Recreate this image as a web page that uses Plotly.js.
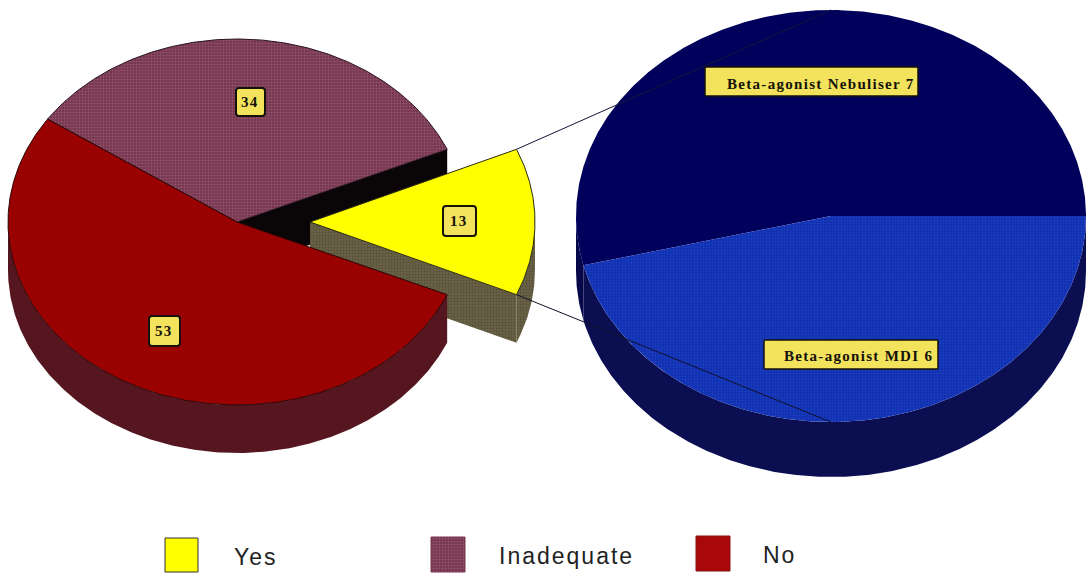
<!DOCTYPE html>
<html>
<head>
<meta charset="utf-8">
<script src="https://cdn.plot.ly/plotly-3.0.1.min.js"></script>
<style>
  html, body { margin: 0; padding: 0; background: #fff; }
  text.annotation-text[style*="Serif"] { letter-spacing: 1.3px; }
  text.annotation-text[style*="Sans"] { letter-spacing: 2px; }
</style>
</head>
<body>
<div id="chart" style="width:1088px;height:574px"></div>
<script>
// Answers, in percent
const answerNames = ['Yes', 'Inadequate', 'No'];
const answerValues = [13, 34, 53];
// Breakdown of the "Yes" slice
const yesBreakdownNames = ['Beta-agonist Nebuliser', 'Beta-agonist MDI'];
const yesBreakdownValues = [7, 6];

const RED_SIDE = '#561620', RED = '#9a0202', NAVY = '#01015c', NAVY_SIDE = '#07074c';
const BLUE_SIDE = '#0c0e52', BLUE = '#1230b0', YELLOW = '#ffff00', LABEL = '#f2e25c';
const MAUVE_PAT = { shape: '.', bgcolor: '#783450', fgcolor: '#8f566c', size: 3, solidity: 0.35 };
const BLUE_PAT = { shape: '.', bgcolor: '#1030b0', fgcolor: '#1e40c4', size: 3, solidity: 0.3 };
const WALL_PAT = { shape: '.', bgcolor: '#6a6246', fgcolor: '#544e36', size: 3, solidity: 0.3 };

const main = { cx: 237, cy: 222, rx: 229, ry: 183, depth: 48 };
const explodedYes = { ...main, cx: 310, rx: 225 };
const detail = { cx: 831, cy: 216, rx: 255, ry: 206, depth: 55 };

// Turns a list of values into [start, end] angles in degrees
function sweeps(values, start) {
  const total = values.reduce((a, b) => a + b, 0);
  let a = start;
  return values.map(v => { const s = a; a += v / total * 360; return [s, a]; });
}
function rim(p, deg) {
  const r = deg * Math.PI / 180;
  return [p.cx + p.rx * Math.cos(r), p.cy - p.ry * Math.sin(r)];
}
function arc(p, a0, a1) {
  const pts = [], n = Math.max(2, Math.ceil(Math.abs(a1 - a0) * 2));
  for (let i = 0; i <= n; i++) pts.push(rim(p, a0 + (a1 - a0) * i / n));
  return pts;
}
function poly(pts, fill, lineColor, pattern) {
  const closed = pts.concat([pts[0]]);
  const t = {
    type: 'scatter', mode: 'lines', x: closed.map(q => q[0]), y: closed.map(q => q[1]),
    fill: 'toself', fillcolor: fill, hoverinfo: 'skip', showlegend: false,
    line: lineColor ? { color: lineColor, width: 1 } : { width: 0 }
  };
  if (pattern) t.fillpattern = pattern;
  return t;
}
function face(p, a0, a1, fill, lineColor, pattern) {
  return poly([[p.cx, p.cy]].concat(arc(p, a0, a1)), fill, lineColor, pattern);
}
// Front-facing part of the extruded rim of a slice
function sides(p, a0, a1, fill, pattern) {
  const out = [];
  [[-180, 0], [180, 360]].forEach(([lo, hi]) => {
    const s = Math.max(a0, lo), e = Math.min(a1, hi);
    if (s < e) {
      const top = arc(p, s, e);
      const bottom = top.slice().reverse().map(q => [q[0], q[1] + p.depth]);
      out.push(poly(top.concat(bottom), fill, null, pattern));
    }
  });
  return out;
}
// Vertical cut wall running from the apex out to the rim
function wall(p, deg, fill, pattern) {
  const e = rim(p, deg);
  return poly([[p.cx, p.cy], e, [e[0], e[1] + p.depth], [p.cx, p.cy + p.depth]], fill, null, pattern);
}
function swatch(x0, y0, x1, y1, fill, lineColor, pattern) {
  return poly([[x0, y0], [x1, y0], [x1, y1], [x0, y1]], fill, lineColor, pattern);
}
function roundedBox(x0, y0, x1, y1, r) {
  return `M${x0 + r},${y0} L${x1 - r},${y0} Q${x1},${y0} ${x1},${y0 + r} L${x1},${y1 - r} Q${x1},${y1} ${x1 - r},${y1} ` +
         `L${x0 + r},${y1} Q${x0},${y1} ${x0},${y1 - r} L${x0},${y0 + r} Q${x0},${y0} ${x0 + r},${y0} Z`;
}

const [yesA, inadequateA, noA] = sweeps(answerValues, -answerValues[0] / 100 * 180);
const [nebA, mdiA] = sweeps(yesBreakdownValues, 0);

const cornerTop = rim(explodedYes, yesA[1]), cornerBottom = rim(explodedYes, yesA[0]);
const detailTop = rim(detail, 90), detailBottom = rim(detail, 270);

const traces = [
  // Main pie, back to front
  wall(main, inadequateA[0], '#0a0507'),
  wall(explodedYes, yesA[0], '#6a6246', WALL_PAT),
  ...sides(explodedYes, yesA[0], yesA[1], '#5d563c', WALL_PAT),
  face(main, inadequateA[0], inadequateA[1], '#783450', '#2a1420', MAUVE_PAT),
  ...sides(main, noA[0], noA[1], RED_SIDE),
  face(main, noA[0], noA[1], RED, '#2a0505'),
  face(explodedYes, yesA[0], yesA[1], YELLOW, '#2a2a10'),
  // Detail pie
  ...sides(detail, nebA[0], nebA[1], NAVY_SIDE),
  ...sides(detail, mdiA[0], mdiA[1], BLUE_SIDE),
  face(detail, nebA[0], nebA[1], NAVY, null),
  face(detail, mdiA[0], mdiA[1], BLUE, null, BLUE_PAT),
  // Leader lines joining the "Yes" slice to the detail pie
  { type: 'scatter', mode: 'lines', x: [cornerTop[0], detailTop[0]], y: [cornerTop[1], detailTop[1]],
    line: { color: '#14143a', width: 1 }, hoverinfo: 'skip', showlegend: false },
  { type: 'scatter', mode: 'lines', x: [cornerBottom[0], detailBottom[0]], y: [cornerBottom[1], detailBottom[1]],
    line: { color: '#101028', width: 1 }, hoverinfo: 'skip', showlegend: false },
  // Key
  swatch(165, 538, 198, 572, YELLOW, '#333'),
  swatch(431, 537, 465, 572, '#783450', '#783450', MAUVE_PAT),
  swatch(696, 536, 730, 571, '#a80808', '#8a1010')
];

function boxShape(x0, y0, x1, y1, r, weight) {
  return { type: 'path', path: roundedBox(x0, y0, x1, y1, r), fillcolor: LABEL,
           line: { color: '#15120a', width: weight }, layer: 'above' };
}
const shapes = [
  boxShape(236, 88, 265, 116, 3, 2),
  boxShape(443, 206, 476, 236, 3, 2),
  boxShape(149, 316, 180, 346, 3, 2),
  boxShape(705, 67, 918, 96, 1, 1.5),
  boxShape(764, 340, 938, 369, 1, 1.5)
];

const serif = { family: 'Liberation Serif', size: 15, color: '#15120a', weight: 700 };
const sans = { family: 'Liberation Sans', size: 23, color: '#222' };
function note(x, y, text, font, anchor) {
  return { x, y, xref: 'x', yref: 'y', text, font, showarrow: false, xanchor: anchor || 'center', yanchor: 'middle' };
}
const annotations = [
  note(250, 102, String(answerValues[1]), serif),
  note(459, 221, String(answerValues[0]), serif),
  note(164, 331, String(answerValues[2]), serif),
  note(821, 84, yesBreakdownNames[0] + ' ' + yesBreakdownValues[0], serif),
  note(858, 356, yesBreakdownNames[1] + ' ' + yesBreakdownValues[1], serif),
  note(232, 557, answerNames[0], sans, 'left'),
  note(497, 556, answerNames[1], sans, 'left'),
  note(761, 555, answerNames[2], sans, 'left')
];

const hidden = { visible: false, fixedrange: true };
Plotly.newPlot('chart', traces, {
  width: 1088, height: 574,
  margin: { l: 0, r: 0, t: 0, b: 0 },
  paper_bgcolor: '#fff', plot_bgcolor: '#fff',
  showlegend: false,
  xaxis: { ...hidden, range: [0, 1088] },
  yaxis: { ...hidden, range: [574, 0] },
  shapes, annotations
}, { displayModeBar: false, staticPlot: true });
</script>
</body>
</html>
